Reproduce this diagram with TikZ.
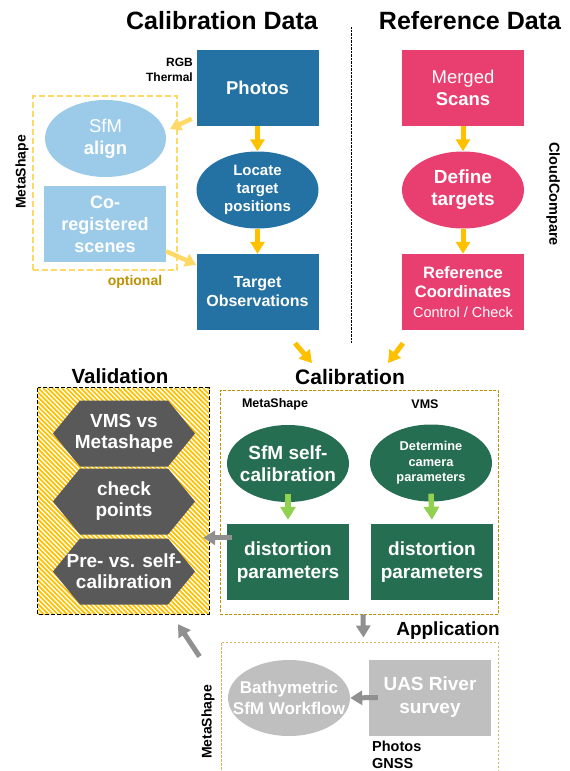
\documentclass[tikz,border=0pt]{standalone}
\usepackage{fontspec}
\setmainfont{Liberation Sans}
\usetikzlibrary{arrows.meta,shapes.geometric,calc}

\definecolor{calblue}{RGB}{36,114,163}
\definecolor{lightblue}{RGB}{156,203,233}
\definecolor{refpink}{RGB}{232,62,112}
\definecolor{calgreen}{RGB}{37,110,82}
\definecolor{lightgreen}{RGB}{146,208,80}
\definecolor{hexgrey}{RGB}{89,89,89}
\definecolor{appgrey}{RGB}{191,191,191}
\definecolor{arrowgrey}{RGB}{144,144,144}
\definecolor{flowyel}{RGB}{255,192,0}
\definecolor{lightyel}{RGB}{255,217,102}
\definecolor{gold}{RGB}{191,144,0}
\definecolor{appgold}{RGB}{214,182,90}

\newcommand\fsz[2]{\fontsize{#1}{#2}\selectfont}

\tikzset{
  box/.style={rectangle, minimum width=122pt, minimum height=76pt, inner sep=0pt, text=white, align=center},
  oval/.style={ellipse, minimum width=122pt, minimum height=77pt, inner sep=0pt, text=white, align=center},
  hextext/.style={minimum width=142pt, minimum height=66pt, inner sep=0pt, text=white, align=center, font=\bfseries\fsz{19}{21}},
  side/.style={font=\bfseries\fsz{12}{14.5}, inner sep=0pt},
  heading/.style={font=\bfseries\fsz{21}{24}},
  yarrow/.style={draw=flowyel, line width=5pt, -{Triangle[width=14pt,length=12pt]}},
  lyarrow/.style={draw=lightyel, line width=4.5pt, -{Triangle[width=13pt,length=11pt]}},
  garrow/.style={draw=lightgreen, line width=5.5pt, -{Triangle[width=15pt,length=13pt]}},
  grarrow/.style={draw=arrowgrey, line width=5pt, -{Triangle[width=14pt,length=12pt]}},
}

\begin{document}
\begin{tikzpicture}[x=1pt,y=-1pt]
\useasboundingbox (0,0) rectangle (570,771);

% Headings and divider
\node[font=\bfseries\fsz{25}{28}] (caltitle) at (222,21) {Calibration Data};
\node[font=\bfseries\fsz{25}{28}] (reftitle) at (470,21) {Reference Data};
\draw[densely dotted] (351,27) -- (351,343);

% Calibration data column
\node[box, fill=calblue, font=\bfseries\fsz{18.5}{22}] (photos) at (257.5,87.5) {Photos};
\node[oval, fill=calblue, font=\bfseries\fsz{15}{18}] (locate) at (257.5,190) {Locate\\target\\positions};
\node[box, fill=calblue, font=\bfseries\fsz{16}{19}] (target) at (257.5,292) {Target\\Observations};
\node[side, anchor=east, align=right] (sensors) at (193,70) {RGB\\Thermal};

% optional alignment in MetaShape
\node[draw=lightyel, dash pattern=on 6pt off 3pt, line width=1.8pt,
      minimum width=144pt, minimum height=174pt] (optbox) at (105,183) {};
\node[oval, fill=lightblue, minimum width=121pt, font=\fsz{18.5}{22}] (sfm) at (105.5,138.5) {SfM\\\textbf{align}};
\node[box, fill=lightblue, font=\bfseries\fsz{18}{22}] (coreg) at (105,224) {Co-\\registered\\scenes};
\node[font=\bfseries\fsz{14}{16}, text=gold] (optional) at (135,282) {optional};
\node[rotate=90, font=\bfseries\fsz{14}{16}] (metaleft) at (22,172) {MetaShape};
\coordinate (sfmtip) at (170,129);

\draw[yarrow] (photos) -- (locate);
\draw[yarrow] (locate) -- (target);
\draw[lyarrow, shorten <=5pt] (photos) -- (sfmtip);
\draw[lyarrow] (coreg) -- (target);

% Reference data column
\node[box, fill=refpink, font=\fsz{18.5}{22}] (merged) at (463,88) {Merged\\\textbf{Scans}};
\node[oval, fill=refpink, font=\bfseries\fsz{19}{22}] (define) at (463,190) {Define\\targets};
\node[box, fill=refpink, font=\bfseries\fsz{16.5}{19.5}] (refcoord) at (463,292)
  {Reference\\Coordinates\\\mdseries\fsz{14.5}{17}Control / Check};
\node[rotate=-90, font=\bfseries\fsz{14.5}{16}] (cloud) at (553,194) {CloudCompare};

\draw[yarrow] (merged) -- (define);
\draw[yarrow] (define) -- (refcoord);

% Calibration
\node[heading] (calib) at (350,377) {Calibration};
\draw[yarrow] ($(target.south)+(37.5,13)$) -- ($(calib.center)+(-38,-14)$);
\draw[yarrow] ($(refcoord.south)+(-60,13)$) -- ($(calib.center)+(38,-14)$);

\node[draw=gold, dash pattern=on 3pt off 1.5pt, line width=0.8pt,
      minimum width=278pt, minimum height=224pt] (calibbox) at (359,502) {};
\node[side, font=\bfseries\fsz{12.5}{14}] (mslabel) at (275,404) {MetaShape};
\node[side, font=\bfseries\fsz{12.5}{14}] (vmslabel) at (425,404) {VMS};
\node[oval, fill=calgreen, inner xsep=-8pt, font=\bfseries\fsz{19}{22}] (selfcal) at (288,463.5) {SfM self-\\calibration};
\node[oval, fill=calgreen, font=\bfseries\fsz{12.8}{15.5}] (camera) at (431,463) {Determine\\camera\\parameters};
\node[box, fill=calgreen, font=\bfseries\fsz{19}{23}] (distms) at (288,562) {distortion\\parameters};
\node[box, fill=calgreen, font=\bfseries\fsz{19}{23}] (distvms) at (432,562) {distortion\\parameters};

\draw[garrow] ([yshift=8pt]selfcal.south) -- ([yshift=4pt]distms.north);
\draw[garrow] ([yshift=8pt]camera.south) -- ([yshift=4pt]distvms.north);

% Validation, hatched frame
\node[heading, font=\bfseries\fsz{20.5}{24}] (valtitle) at (120,376) {Validation};
\node[minimum width=171pt, minimum height=226pt] (valbox) at (123.5,501) {};
\begin{scope}
  \clip (valbox.north west) rectangle (valbox.south east);
  \foreach \i in {-230,-225.3,...,175}
    \draw[flowyel, line width=1.7pt] (38+\i,388) -- ++(230,230);
\end{scope}
\draw[dash pattern=on 4pt off 2pt, line width=1pt] (valbox.north west) rectangle (valbox.south east);
\foreach \y in {433.5,501.5,571.5}
  \fill[hexgrey] (53,\y) -- ++(27,-33) -- ++(88,0) -- ++(27,33) -- ++(-27,33) -- ++(-88,0) -- cycle;
\node[hextext] (vmsvs) at (124,433.5) {VMS vs\\Metashape};
\node[hextext] (check) at (124,501.5) {check\\points};
\node[hextext] (prevs) at (124,571.5) {Pre- vs. self-\\calibration};

\draw[grarrow] ([shift={(5,14)}]distms.north west) coordinate (distout) -- ([xshift=-6pt]valbox.east |- distout);

% Application
\node[heading, font=\bfseries\fsz{19}{22}] (apptitle) at (448,631) {Application};
\node[draw=appgold, dash pattern=on 2.5pt off 1.5pt, line width=1pt,
      minimum width=277pt, minimum height=133pt] (appbox) at (359.5,708.5) {};
\node[oval, fill=appgrey, minimum height=76pt, inner xsep=-14pt, font=\bfseries\fsz{17}{21}] (bathy) at (289,698) {Bathymetric\\SfM Workflow};
\node[box, fill=appgrey, font=\bfseries\fsz{19}{23}] (uas) at (430,697.5) {UAS River\\survey};
\node[side, font=\bfseries\fsz{14.5}{17}, anchor=west, align=left] (uasdata) at (372,755) {Photos\\GNSS};
\node[rotate=90, font=\bfseries\fsz{14}{16}] (metaapp) at (208,722) {MetaShape};

\draw[grarrow] ([xshift=4pt]calibbox.south) -- ([xshift=4pt,yshift=4pt]appbox.north);
\draw[grarrow] ([xshift=9pt]uas.west) -- (bathy.east);
\draw[grarrow] ($(appbox.north west)+(-21,15)$) -- ($(valbox.south)+(54.5,10)$);
\end{tikzpicture}
\end{document}
